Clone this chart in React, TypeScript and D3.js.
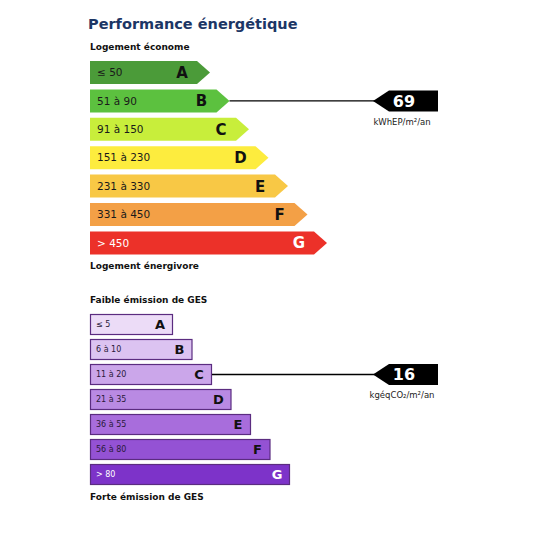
import React from "react";
import * as d3 from "d3";

const energyClasses = ["A", "B", "C", "D", "E", "F", "G"];
const energyRanges = ["≤ 50", "51 à 90", "91 à 150", "151 à 230", "231 à 330", "331 à 450", "> 450"];
const energyUpper = [50, 90, 150, 230, 330, 450, Infinity];
const energyColors = ["#4b9b39", "#5cc13f", "#c8ee3b", "#fdec3e", "#f8c845", "#f3a046", "#ec3129"];
const energyValue = 69;
const energyUnit = "kWhEP/m²/an";

const gesClasses = ["A", "B", "C", "D", "E", "F", "G"];
const gesRanges = ["≤ 5", "6 à 10", "11 à 20", "21 à 35", "36 à 55", "56 à 80", "> 80"];
const gesUpper = [5, 10, 20, 35, 55, 80, Infinity];
const gesColors = ["#ecdcf7", "#dcc3f1", "#cba6ea", "#b98ae3", "#a86ddc", "#9452d4", "#7d33c9"];
const gesValue = 16;
const gesUnit = "kgéqCO₂/m²/an";

const FONT = "DejaVu Sans, Verdana, sans-serif";

export default function App() {
  const left = 90;
  // Energy
  const ey = d3.scaleBand<string>().domain(energyClasses).range([61, 61 + 6 * 28.4 + 23]).paddingInner(5.4 / 28.4).paddingOuter(0);
  const eBody = d3.scaleLinear().domain([0, 6]).range([197, 314]);
  const tipLen = 13;
  const eIdx = energyUpper.findIndex((u) => energyValue <= u);
  // GES
  const gy = d3.scaleBand<string>().domain(gesClasses).range([314, 314 + 6 * 25 + 21]).paddingInner(4 / 25).paddingOuter(0);
  const gRight = d3.scaleLinear().domain([0, 6]).range([173, 290]);
  const gIdx = gesUpper.findIndex((u) => gesValue <= u);

  const indicator = (cy: number, fromX: number, value: number, unit: string) => {
    const tipX = 373;
    const boxL = 389;
    const boxR = 438;
    const h = 10.5;
    const pts: [number, number][] = [
      [tipX, cy], [boxL, cy - h], [boxR, cy - h], [boxR, cy + h], [boxL, cy + h],
    ];
    return (
      <g>
        <line x1={fromX} x2={tipX + 4} y1={cy} y2={cy} stroke="#000" strokeWidth={1.3} />
        <polygon points={pts.map((p) => p.join(",")).join(" ")} fill="#000" />
        <text x={404} y={cy} dy="0.36em" textAnchor="middle" fill="#fff" fontWeight="bold" fontSize={16} fontFamily={FONT}>
          {value}
        </text>
        <text x={402} y={cy + 21} dy="0.35em" textAnchor="middle" fill="#222" fontSize={8.5} fontFamily={FONT}>
          {unit}
        </text>
      </g>
    );
  };

  return (
    <svg width={550} height={550} style={{ position: "absolute", left: 0, top: 0, background: "#fff" }}>
      <text x={88} y={29} fontSize={14.5} fontWeight="bold" fill="#1c3665" fontFamily={FONT}>
        Performance énergétique
      </text>
      <text x={90} y={50} fontSize={9} fontWeight="bold" fill="#111" fontFamily={FONT}>
        Logement économe
      </text>
      {energyClasses.map((c, i) => {
        const y0 = ey(c)!;
        const h = ey.bandwidth();
        const body = eBody(i);
        const cy = y0 + h / 2;
        const pts: [number, number][] = [
          [left, y0], [body, y0], [body + tipLen, cy], [body, y0 + h], [left, y0 + h],
        ];
        const txt = i === 6 ? "#fff" : "#1a1a1a";
        return (
          <g key={c}>
            <polygon points={pts.map((p) => p.join(",")).join(" ")} fill={energyColors[i]} />
            <text x={97} y={cy} dy="0.35em" fontSize={10.5} fill={txt} fontFamily={FONT}>
              {energyRanges[i]}
            </text>
            <text x={body + tipLen - 28} y={cy} dy="0.37em" textAnchor="middle" fontSize={15} fontWeight="bold" fill={i === 6 ? "#fff" : "#111"} fontFamily={FONT}>
              {c}
            </text>
          </g>
        );
      })}
      <text x={90} y={269} fontSize={9} fontWeight="bold" fill="#111" fontFamily={FONT}>
        Logement énergivore
      </text>
      {indicator(ey(energyClasses[eIdx])! + ey.bandwidth() / 2, eBody(eIdx) + tipLen, energyValue, energyUnit)}

      <text x={90} y={303} fontSize={9} fontWeight="bold" fill="#111" fontFamily={FONT}>
        Faible émission de GES
      </text>
      {gesClasses.map((c, i) => {
        const y0 = gy(c)!;
        const h = gy.bandwidth();
        const r = gRight(i);
        const cy = y0 + h / 2;
        const txt = i === 6 ? "#fff" : "#2a1a3a";
        return (
          <g key={c}>
            <rect x={left + 0.5} y={y0 + 0.5} width={r - left - 1} height={h - 1} fill={gesColors[i]} stroke="#5b2c80" strokeWidth={1.2} />
            <text x={96} y={cy} dy="0.35em" fontSize={8} fill={txt} fontFamily={FONT}>
              {gesRanges[i]}
            </text>
            <text x={r - 13} y={cy} dy="0.37em" textAnchor="middle" fontSize={13} fontWeight="bold" fill={i === 6 ? "#fff" : "#111"} fontFamily={FONT}>
              {c}
            </text>
          </g>
        );
      })}
      <text x={90} y={500} fontSize={9} fontWeight="bold" fill="#111" fontFamily={FONT}>
        Forte émission de GES
      </text>
      {indicator(gy(gesClasses[gIdx])! + gy.bandwidth() / 2, gRight(gIdx), gesValue, gesUnit)}
    </svg>
  );
}
